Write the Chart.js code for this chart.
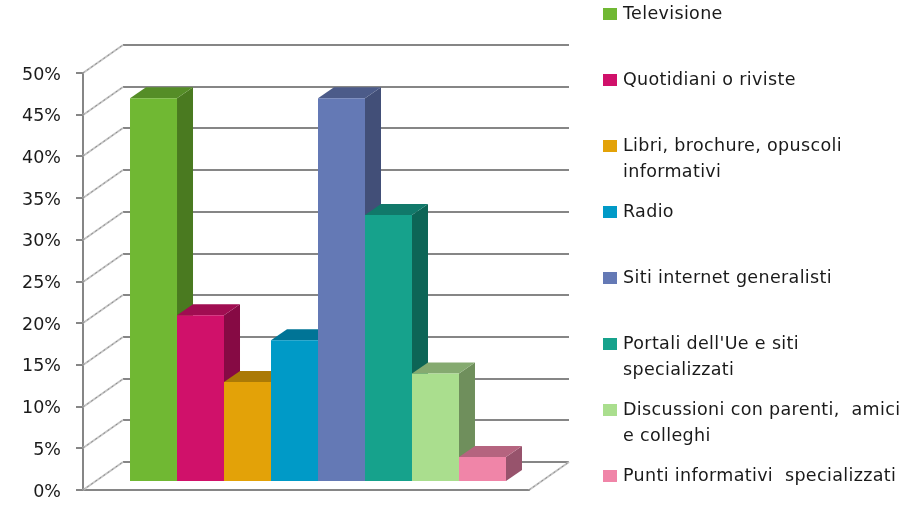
<!DOCTYPE html>
<html lang="it">
<head>
    <title>Fonti di informazione</title>
    <script src="https://cdn.jsdelivr.net/npm/chart.js@4"></script>
    <style>
        body { margin: 0; background: #fff; }
    </style>
</head>
<body>
    <canvas id="myChart" width="921" height="525"></canvas>

    <script>
        // data
        var categories = [
            "Televisione",
            "Quotidiani o riviste",
            "Libri, brochure, opuscoli\ninformativi",
            "Radio",
            "Siti internet generalisti",
            "Portali dell'Ue e siti\nspecializzati",
            "Discussioni con parenti,  amici\ne colleghi",
            "Punti informativi  specializzati"
        ];
        var values = [46, 20, 12, 17, 46, 32, 13, 3];
        var yMax = 50;
        var yStep = 5;

        var frontColors = ["#70b833", "#d0116a", "#e3a208", "#009ac7", "#6479b5", "#16a28c", "#aade8e", "#f085a8"];
        var topColors = ["#558d27", "#a00d51", "#ab7a06", "#007496", "#4c5b89", "#11796a", "#85aa70", "#b5647f"];
        var sideColors = ["#4a7a20", "#860a44", "#8f6605", "#00617e", "#424f78", "#0d6556", "#6f8f5c", "#97536c"];

        var font = '"DejaVu Sans", sans-serif';
        var gridColor = "#868686";

        function face(ctx, color, pts) {
            ctx.fillStyle = color;
            ctx.beginPath();
            ctx.moveTo(pts[0], pts[1]);
            for (var i = 2; i < pts.length; i += 2) ctx.lineTo(pts[i], pts[i + 1]);
            ctx.closePath();
            ctx.fill();
        }

        // back wall + side wall + floor, taken from the y scale
        var wallsPlugin = {
            id: "walls",
            beforeDatasetsDraw: function (chart) {
                var ctx = chart.ctx, y = chart.scales.y, a = chart.chartArea;
                var dx = 40, dy = -28;
                ctx.save();
                for (var v = 0; v <= yMax; v += yStep) {
                    var py = Math.round(y.getPixelForValue(v));
                    ctx.strokeStyle = gridColor;
                    ctx.lineWidth = 2;
                    ctx.beginPath();
                    ctx.moveTo(a.left + dx, py + dy);
                    ctx.lineTo(a.right + dx, py + dy);
                    ctx.stroke();
                    diagonal(ctx, a.left, py, dx, dy);
                }
                diagonal(ctx, a.right, y.getPixelForValue(0), dx, dy);
                ctx.restore();
            }
        };

        function diagonal(ctx, x, y, dx, dy) {
            ctx.strokeStyle = "#c4c4c4";
            ctx.lineWidth = 2;
            ctx.beginPath();
            ctx.moveTo(x, y);
            ctx.lineTo(x + dx, y + dy);
            ctx.stroke();
            ctx.strokeStyle = "#8a8a8a";
            ctx.lineWidth = 1;
            ctx.setLineDash([2, 3]);
            ctx.stroke();
            ctx.setLineDash([]);
        }

        // shifts the bars into the middle of the floor and adds top and side faces
        var barsPlugin = {
            id: "bars3d",
            beforeDatasetsDraw: function (chart) {
                var ctx = chart.ctx, d = 16, e = 11;
                ctx.save();
                ctx.translate(12, -8);
                values.forEach(function (val, i) {
                    var b = chart.getDatasetMeta(i).data[0];
                    var l = b.x - b.width / 2, r = b.x + b.width / 2;
                    face(ctx, sideColors[i], [r, b.y, r + d, b.y - e, r + d, b.base - e, r, b.base]);
                    face(ctx, topColors[i], [l, b.y, l + d, b.y - e, r + d, b.y - e, r, b.y]);
                });
            },
            afterDatasetsDraw: function (chart) {
                chart.ctx.restore();
            }
        };

        // labels wrap but the rows keep an even pitch, which the built-in legend can't do
        var legendPlugin = {
            id: "sideLegend",
            afterDraw: function (chart) {
                var ctx = chart.ctx;
                ctx.save();
                ctx.font = "17.5px " + font;
                ctx.letterSpacing = "0.35px";
                ctx.textBaseline = "middle";
                categories.forEach(function (label, i) {
                    var y = 14 + i * 66;
                    ctx.fillStyle = frontColors[i];
                    ctx.fillRect(603, y - 6, 14, 12);
                    ctx.fillStyle = "#1a1a1a";
                    label.split("\n").forEach(function (line, j) {
                        ctx.fillText(line, 623, y + j * 26.5);
                    });
                });
                ctx.restore();
            }
        };

        new Chart("myChart", {
            type: "bar",
            data: {
                labels: [""],
                datasets: categories.map(function (c, i) {
                    return {
                        label: c.replace("\n", " "),
                        data: [values[i]],
                        backgroundColor: frontColors[i],
                        clip: false
                    };
                })
            },
            plugins: [wallsPlugin, barsPlugin, legendPlugin],
            options: {
                responsive: false,
                animation: false,
                layout: { padding: { top: 73, right: 392, bottom: 35, left: 0 } },
                datasets: { bar: { barPercentage: 1, categoryPercentage: 0.843 } },
                plugins: { legend: { display: false }, tooltip: { enabled: false } },
                scales: {
                    x: {
                        afterFit: function (s) { s.height = 0; },
                        grid: { display: false },
                        border: { color: gridColor, width: 2 },
                        ticks: { display: false }
                    },
                    y: {
                        min: 0,
                        max: yMax,
                        afterFit: function (s) { s.width = 83; },
                        grid: { drawOnChartArea: false, color: gridColor, lineWidth: 2, tickLength: 7 },
                        border: { color: gridColor, width: 2 },
                        ticks: {
                            stepSize: yStep,
                            padding: 15,
                            labelOffset: 2,
                            color: "#1a1a1a",
                            font: { family: font, size: 17.5 },
                            callback: function (v) { return v + "%"; }
                        }
                    }
                }
            }
        });
    </script>
</body>
</html>
